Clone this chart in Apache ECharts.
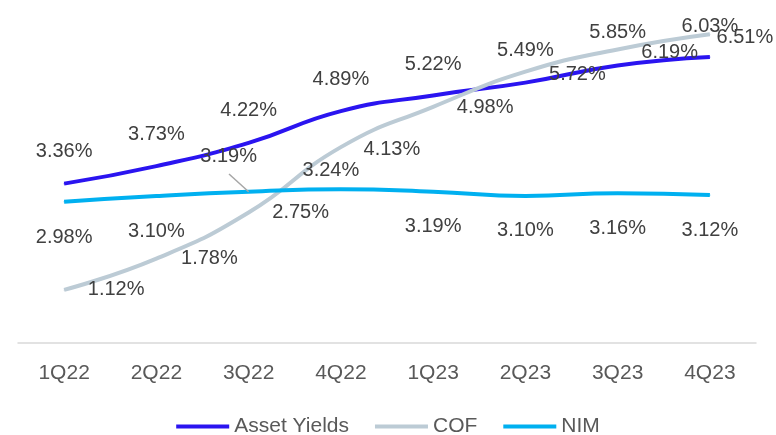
<!DOCTYPE html>
<html>
<head>
<meta charset="utf-8">
<script src="https://cdn.jsdelivr.net/npm/echarts@6/dist/echarts.min.js"></script>
<style>
  html, body { margin: 0; padding: 0; background: #fff; }
  #chart { width: 776px; height: 435px; }
</style>
</head>
<body>
<div id="chart"></div>
<script>
const categories = ["1Q22", "2Q22", "3Q22", "4Q22", "1Q23", "2Q23", "3Q23", "4Q23"];
const assetYields = [3.36, 3.73, 4.22, 4.89, 5.22, 5.49, 5.85, 6.03];
const cof = [1.12, 1.78, 2.75, 4.13, 4.98, 5.72, 6.19, 6.51];
const nim = [2.98, 3.10, 3.19, 3.24, 3.19, 3.10, 3.16, 3.12];

// label placement (px offsets from the point)
const assetOffsets = [[0, -32], [0, -32], [0, -32], [0, -32], [0, -31], [0, -32], [0, -33], [0, -31]];
const cofOffsets = [[52, 0], [53, 0], [52, 0], [51, 2], [52, 1], [52, 3], [52, 3], [35, 3]];
const nimOffsets = [[0, 36], [0, 36], [-20, -35], [-10, -19], [0, 35], [0, 35], [0, 35], [0, 35]];

const font = "'Liberation Sans', Arial, sans-serif";
const labelColor = "#404040";

function withLabels(values, offsets) {
  return values.map((v, i) => ({
    value: v,
    label: { offset: offsets[i] }
  }));
}

function lineSeries(name, color, data) {
  return {
    name: name,
    type: "line",
    smooth: 0.5,
    symbol: "circle",
    symbolSize: 1,
    showSymbol: true,
    itemStyle: { color: color },
    lineStyle: { color: color, width: 4 },
    label: {
      show: true,
      position: "inside",
      color: labelColor,
      fontSize: 20,
      fontFamily: font,
      formatter: p => p.value.toFixed(2) + "%"
    },
    emphasis: { disabled: true },
    data: data
  };
}

const myChart = echarts.init(document.getElementById("chart"));

const nimSeries = lineSeries("NIM", "#00B0F0", withLabels(nim, nimOffsets));
// leader line from the 3Q22 NIM label down to its point
nimSeries.markLine = {
  silent: true,
  symbol: ["none", "none"],
  label: { show: false },
  lineStyle: { color: "#A6A6A6", width: 1.5, type: "solid" },
  data: [[{ x: 229, y: 174 }, { coord: [2, nim[2]] }]]
};

const option = {
  animation: false,
  grid: { left: 18, right: 20, top: 11, bottom: 92 },
  legend: {
    left: "center",
    top: 411,
    icon: "rect",
    itemWidth: 53,
    itemHeight: 4,
    itemGap: 26,
    textStyle: { color: "#595959", fontSize: 21, fontFamily: font },
    data: ["Asset Yields", "COF", "NIM"]
  },
  xAxis: {
    type: "category",
    data: categories,
    boundaryGap: true,
    axisLine: { lineStyle: { color: "#D9D9D9", width: 1.5 } },
    axisTick: { show: false },
    axisLabel: { color: "#595959", fontSize: 21, fontFamily: font, margin: 20 }
  },
  yAxis: {
    type: "value",
    min: 0,
    max: 7,
    show: false,
    splitLine: { show: false }
  },
  series: [
    lineSeries("Asset Yields", "#2A14F0", withLabels(assetYields, assetOffsets)),
    lineSeries("COF", "#BCCBD5", withLabels(cof, cofOffsets)),
    nimSeries
  ]
};

myChart.setOption(option);
</script>
</body>
</html>
